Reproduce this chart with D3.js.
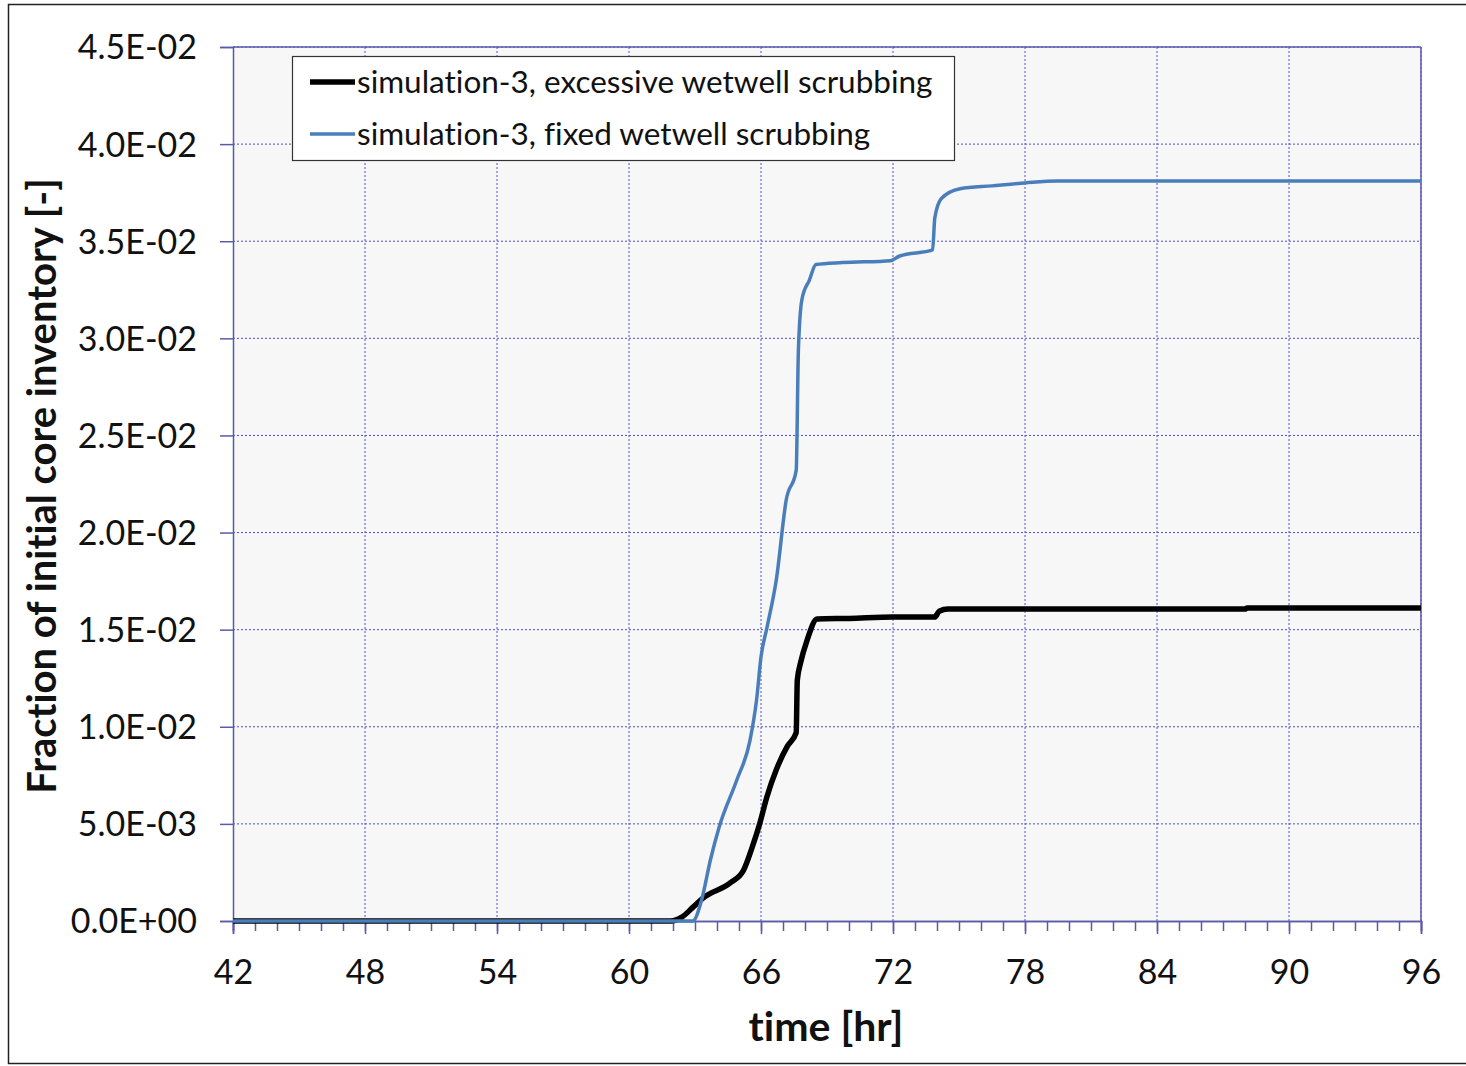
<!DOCTYPE html>
<html><head><meta charset="utf-8">
<script src="https://cdn.jsdelivr.net/npm/d3@7"></script>
<style>body{margin:0;background:#fff}svg{display:block}text{font-variant-ligatures:none;font-feature-settings:"liga" 0}</style>
</head><body>
<svg id="c" width="1466" height="1066"></svg>
<script>
const xTicks = [42,48,54,60,66,72,78,84,90,96];
const yTicks = [0,0.005,0.01,0.015,0.02,0.025,0.03,0.035,0.04,0.045];
const yTickLabels = ["0.0E+00","5.0E-03","1.0E-02","1.5E-02","2.0E-02","2.5E-02","3.0E-02","3.5E-02","4.0E-02","4.5E-02"];
const seriesNames = ["simulation-3, excessive wetwell scrubbing","simulation-3, fixed wetwell scrubbing"];
const excessX = [42,61.9,62.4,62.9,63.36,64.6,65.2,65.6,65.95,66.27,66.7,67.2,67.6,67.65,67.8,68.1,68.55,70,72,73.9,74.1,74.5,88,88.1,96];
const excessY = [0,0,0.0002,0.0007,0.00118,0.00196,0.0026,0.0038,0.00505,0.0064,0.0078,0.009,0.0097,0.0124,0.0133,0.01447,0.01555,0.01558,0.01565,0.01565,0.01595,0.01606,0.01606,0.01612,0.01612];
const fixedX = [42,62.9,63.3,63.7,64.1,64.9,65.5,65.8,66.0,66.27,66.7,67.15,67.6,67.7,67.86,68.2,68.5,69.7,71.9,72.3,73.8,73.9,74.2,75.05,76.5,78,79.45,96];
const fixedY = [0,0,0.00108,0.00314,0.00484,0.00726,0.0093,0.0114,0.0136,0.0151,0.0176,0.0217,0.0232,0.0294,0.032,0.033,0.0338,0.0339,0.034,0.03424,0.03455,0.0362,0.0372,0.0377,0.03785,0.038,0.0381,0.0381];

const svg = d3.select("#c");
const L=233,R=1421,T=47,B=921;
const x = d3.scaleLinear().domain([42,96]).range([L,R]);
const y = d3.scaleLinear().domain([0,0.045]).range([B,T]);
const axisCol="#5a5aa8", gridCol="#5050c8";
const font="Lato, 'Open Sans', sans-serif";

svg.append("rect").attr("x",8.5).attr("y",4.5).attr("width",1470).attr("height",1059).attr("fill","#fff").attr("stroke","#222").attr("stroke-width",1.5);
svg.append("rect").attr("x",L).attr("y",T).attr("width",R-L).attr("height",B-T).attr("fill","#f7f7f7");

// grid
const g = svg.append("g");
g.selectAll("line.gx").data(xTicks.slice(1)).join("line")
  .attr("x1",d=>x(d)).attr("x2",d=>x(d)).attr("y1",T).attr("y2",B)
  .attr("stroke",gridCol).attr("stroke-width",1).attr("stroke-dasharray","2,2");
g.selectAll("line.gy").data(yTicks.slice(1)).join("line")
  .attr("x1",L).attr("x2",R).attr("y1",d=>y(d)).attr("y2",d=>y(d))
  .attr("stroke",gridCol).attr("stroke-width",1).attr("stroke-dasharray","2,2");

// axes
const xAxis = d3.axisBottom(x).tickValues(xTicks).tickSize(13).tickFormat(d=>d);
const xMinor = d3.axisBottom(x).tickValues(d3.range(42,97,1)).tickSize(10).tickFormat("");
const yAxis = d3.axisLeft(y).tickValues(yTicks).tickSize(13).tickFormat((d,i)=>yTickLabels[i]);
const gxm = svg.append("g").attr("transform",`translate(0,${B})`).call(xMinor);
const gx = svg.append("g").attr("transform",`translate(0,${B})`).call(xAxis);
const gy = svg.append("g").attr("transform",`translate(${L},0)`).call(yAxis);
[gx,gxm,gy].forEach(a=>{
  a.selectAll("path").attr("stroke",axisCol).attr("stroke-width",1.5);
  a.selectAll("line").attr("stroke",axisCol).attr("stroke-width",1.5);
  a.selectAll("text").attr("fill","#111").style("font-family",font).style("font-size","34px");
});
gx.selectAll("text").attr("dy","0").attr("y",63);
gy.selectAll("text").attr("x",-36).attr("dy","0.35em");
svg.append("line").attr("x1",R).attr("x2",R).attr("y1",T).attr("y2",B).attr("stroke",axisCol).attr("stroke-width",1.5);
svg.append("line").attr("x1",L).attr("x2",R).attr("y1",T).attr("y2",T).attr("stroke",axisCol).attr("stroke-width",1.5);

// lines
const line = d3.line().x(d=>x(d[0])).y(d=>y(d[1])).curve(d3.curveMonotoneX);
const blueCol="#4a7ebb";
svg.append("path").datum(excessX.map((v,i)=>[v,excessY[i]])).attr("d",line)
  .attr("fill","none").attr("stroke","#000").attr("stroke-width",5.5).attr("stroke-linejoin","round");
svg.append("path").datum(fixedX.map((v,i)=>[v,fixedY[i]])).attr("d",line)
  .attr("fill","none").attr("stroke",blueCol).attr("stroke-width",3.5).attr("stroke-linejoin","round");

// titles
svg.append("text").attr("x",826).attr("y",1041).attr("text-anchor","middle")
  .style("font-family",font).style("font-weight","bold").style("font-size","41px").attr("fill","#111").text("time [hr]");
svg.append("text").attr("transform","translate(56,486) rotate(-90)").attr("text-anchor","middle")
  .style("font-family",font).style("font-weight","bold").style("font-size","40px").attr("fill","#111")
  .text("Fraction of initial core inventory [-]");

// legend
const lg = svg.append("g");
lg.append("rect").attr("x",292.5).attr("y",56.5).attr("width",662).attr("height",104)
  .attr("fill","#fff").attr("stroke","#333").attr("stroke-width",1.2);
const cols=["#000",blueCol], widths=[5.5,3.5], ys=[82,134];
seriesNames.forEach((n,i)=>{
  lg.append("line").attr("x1",310).attr("x2",355).attr("y1",ys[i]).attr("y2",ys[i]).attr("stroke",cols[i]).attr("stroke-width",widths[i]);
  lg.append("text").attr("x",357).attr("y",ys[i]).attr("dy","0.35em").style("font-family",font).style("font-size","31.5px").attr("fill","#111").text(n);
});
</script>
</body></html>
